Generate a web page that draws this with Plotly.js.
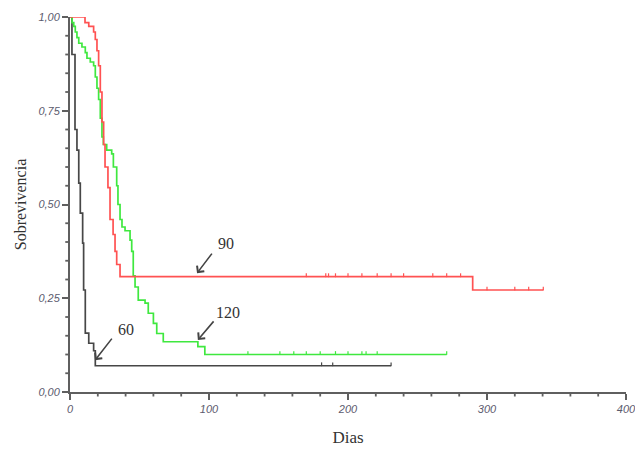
<!DOCTYPE html>
<html>
<head>
<meta charset="utf-8">
<script src="https://cdn.plot.ly/plotly-3.0.1.min.js"></script>
<style>html,body{margin:0;padding:0;background:#fff;}#chart{width:635px;height:450px;}</style>
</head>
<body>
<div id="chart"></div>
<script>
// Group "60" (black): step times (days) and survival after each step
const g60X = [0, 1.4, 3.6, 5, 6.3, 7.4, 9.1, 9.8, 11, 13.5, 17, 18.2, 231];
const g60Y = [1.0, 0.90, 0.70, 0.645, 0.557, 0.477, 0.397, 0.272, 0.157, 0.13, 0.11, 0.07, 0.07];
const g60CensX = [181, 189, 231];
const g60CensY = [0.07, 0.07, 0.07];

// Group "90" (red)
const g90X = [0, 10.8, 13.5, 17, 18.2, 19.4, 20.6, 21.8, 23, 24.2, 25.2, 27.3, 28.8, 31, 32.4, 33.6, 36, 289.7, 340.5];
const g90Y = [1.0, 0.985, 0.975, 0.96, 0.94, 0.91, 0.87, 0.80, 0.72, 0.66, 0.60, 0.545, 0.46, 0.42, 0.375, 0.34, 0.3075, 0.272, 0.272];
const g90CensX = [170, 184, 186, 191, 200, 210, 221, 231, 240, 261, 271, 281, 300, 320, 330, 340.5];
const g90CensY = [0.3075, 0.3075, 0.3075, 0.3075, 0.3075, 0.3075, 0.3075, 0.3075, 0.3075, 0.3075, 0.3075, 0.3075, 0.272, 0.272, 0.272, 0.272];

// Group "120" (green)
const g120X = [0, 1.5, 2.7, 3.8, 5, 6.3, 8.6, 11, 12.2, 14.6, 17, 18.2, 19.4, 20.6, 21.8, 23, 24, 26.4, 30, 31.2, 33.6, 34.5, 36, 37.4, 39.6, 43.2, 44.4, 45.5, 46.8, 49.1, 54, 56.3, 60, 62.4, 67.1, 92, 97, 271];
const g120Y = [1.0, 0.985, 0.975, 0.96, 0.945, 0.93, 0.92, 0.905, 0.89, 0.88, 0.87, 0.84, 0.81, 0.78, 0.73, 0.68, 0.66, 0.645, 0.635, 0.60, 0.55, 0.50, 0.46, 0.44, 0.43, 0.405, 0.375, 0.31, 0.28, 0.245, 0.237, 0.21, 0.183, 0.156, 0.134, 0.121, 0.10, 0.10];
const g120CensX = [128, 151, 161, 170, 180, 191, 200, 210, 213, 221, 271];
const g120CensY = [0.10, 0.10, 0.10, 0.10, 0.10, 0.10, 0.10, 0.10, 0.10, 0.10, 0.10];

const groupLabels = ["60", "90", "120"];

const cBlack = "#474747", cRed = "#ff5252", cGreen = "#3fe83f";

function curve(x, y, color) {
  return {x: x, y: y, type: "scatter", mode: "lines", line: {shape: "hv", color: color, width: 1.7},
    cliponaxis: false, hoverinfo: "skip", showlegend: false};
}
function cens(x, y, color) {
  return {x: x, y: y, type: "scatter", mode: "markers", marker: {size: 1, color: color},
    error_y: {type: "data", symmetric: false, array: x.map(() => 0.009), arrayminus: x.map(() => 0),
      color: color, thickness: 1.2, width: 0},
    cliponaxis: false, hoverinfo: "skip", showlegend: false};
}

const data = [
  curve(g60X, g60Y, cBlack), cens(g60CensX, g60CensY, cBlack),
  curve(g120X, g120Y, cGreen), cens(g120CensX, g120CensY, cGreen),
  curve(g90X, g90Y, cRed), cens(g90CensX, g90CensY, cRed)
];

const axisCol = "#5f5f5f";
const tickFont = {family: "Liberation Sans, Arial, sans-serif", size: 11, color: "#5b5b6e", style: "italic"};
const serif = "Liberation Serif, Times New Roman, serif";

// minor tick marks drawn as short shapes just outside the axis lines
const minorShapes = [];
for (let v = 20; v < 400; v += 20) {
  if (v % 100 === 0) continue;
  minorShapes.push({type: "line", xref: "x", yref: "paper", x0: v, x1: v, y0: -0.002, y1: -0.012,
    line: {color: axisCol, width: 1.8}});
}
for (let k = 1; k < 20; k++) {
  if (k % 5 === 0) continue;
  const v = k * 0.05;
  minorShapes.push({type: "line", xref: "paper", yref: "y", x0: -0.0015, x1: -0.0085, y0: v, y1: v,
    line: {color: axisCol, width: 1.8}});
}

const arrowCommon = {xref: "x", yref: "y", showarrow: true, arrowhead: 4, arrowsize: 1.1, arrowwidth: 1.6,
  arrowcolor: "#444", standoff: 0, text: ""};
const textCommon = {xref: "x", yref: "y", showarrow: false, font: {family: serif, size: 16, color: "#333"}};

const layout = {
  width: 635, height: 450,
  margin: {l: 70, r: 9, t: 17, b: 58},
  paper_bgcolor: "#fff", plot_bgcolor: "#fff",
  separators: ",.",
  showlegend: false,
  xaxis: {
    range: [0, 400], dtick: 100, showgrid: false, zeroline: false,
    showline: true, linecolor: axisCol, linewidth: 2,
    ticks: "outside", ticklen: 6, tickwidth: 2, tickcolor: axisCol,
    tickfont: tickFont, ticklabeloverflow: "allow",
    title: {text: "Dias", font: {family: serif, size: 17, color: "#333"}, standoff: 17}
  },
  yaxis: {
    range: [0, 1], dtick: 0.25, tickformat: ".2f", showgrid: false, zeroline: false,
    showline: true, linecolor: axisCol, linewidth: 2,
    ticks: "outside", ticklen: 6, tickwidth: 2, tickcolor: axisCol,
    tickfont: tickFont, ticklabeloverflow: "allow",
    title: {text: "Sobrevivencia", font: {family: serif, size: 16, color: "#333"}, standoff: 8}
  },
  shapes: minorShapes,
  annotations: [
    Object.assign({}, arrowCommon, {x: 91.4, y: 0.317, ax: 16, ay: -21}),
    Object.assign({}, arrowCommon, {x: 92, y: 0.139, ax: 17, ay: -20}),
    Object.assign({}, arrowCommon, {x: 18, y: 0.085, ax: 18, ay: -23}),
    Object.assign({}, textCommon, {x: 112, y: 0.397, text: groupLabels[1]}),
    Object.assign({}, textCommon, {x: 114, y: 0.213, text: groupLabels[2]}),
    Object.assign({}, textCommon, {x: 40.5, y: 0.168, text: groupLabels[0]})
  ]
};

Plotly.newPlot("chart", data, layout, {staticPlot: true, displayModeBar: false});
</script>
</body>
</html>
